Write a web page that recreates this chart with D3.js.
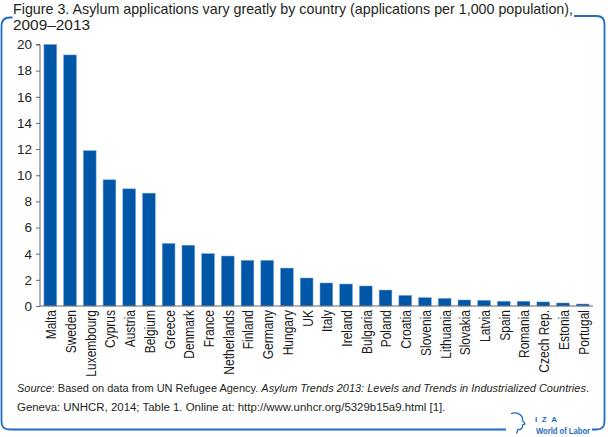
<!DOCTYPE html>
<html>
<head>
<meta charset="utf-8">
<script src="https://cdn.jsdelivr.net/npm/d3@7"></script>
<style>
  html, body { margin: 0; padding: 0; background: #fff; }
  svg { display: block; }
  text { font-family: "Liberation Sans", Arial, sans-serif; }
</style>
</head>
<body>
<svg id="chart" width="608" height="437"></svg>
<script>
const countries = ["Malta","Sweden","Luxembourg","Cyprus","Austria","Belgium","Greece","Denmark","France","Netherlands","Finland","Germany","Hungary","UK","Italy","Ireland","Bulgaria","Poland","Croatia","Slovenia","Lithuania","Slovakia","Latvia","Spain","Romania","Czech Rep.","Estonia","Portugal"];
const values = [20.0,19.2,11.88,9.65,8.96,8.63,4.78,4.65,4.0,3.82,3.49,3.49,2.9,2.14,1.76,1.68,1.53,1.22,0.81,0.64,0.58,0.46,0.43,0.36,0.36,0.31,0.23,0.15];
const yTicks = [0,2,4,6,8,10,12,14,16,18,20];
const titleLines = ["Figure 3. Asylum applications vary greatly by country (applications per 1,000 population),", "2009\u20132013"];
const sourceLine1 = [["Source", true], [": Based on data from UN Refugee Agency. ", false], ["Asylum Trends 2013: Levels and Trends in Industrialized Countries", true], [".", false]];
const sourceLine2 = "Geneva: UNHCR, 2014; Table 1. Online at: http://www.unhcr.org/5329b15a9.html [1].";

const svg = d3.select("#chart");
const blue = "#0057a8";
const frameBlue = "#1f6cc0";
const textCol = "#231f20";

const x = d3.scaleBand().domain(countries).range([40, 593]).paddingInner(0.355).paddingOuter(0.2);
const y = d3.scaleLinear().domain([0, 20]).range([306, 44.5]);

function fitWidth(sel, base, target) {
  sel.style("font-size", base + "px");
  const w = sel.node().getComputedTextLength();
  sel.style("font-size", (base * target / w) + "px");
}

// frame
const frame = svg.append("g").attr("fill", "none").attr("stroke", frameBlue).attr("stroke-width", 1.8);
frame.append("path").attr("d", "M12.5,17.5 L10,17.5 Q1.5,17.5 1.5,26 L1.5,421.5 Q1.5,429.5 9.5,429.5 L506,429.5");
frame.append("path").attr("d", "M592,429.5 L596.5,429.5 Q604.5,429.5 604.5,421.5 L604.5,24 Q604.5,16 596.5,16 L574,16");
frame.append("path").attr("stroke-width", 1.3)
  .attr("d", "M511,413.5 C517,411.5 523,415 522.5,420 L525,424 L522.5,425 C523,428 521,430 518,429.5 L516.5,433.5");

// title
const title = svg.append("g").attr("fill", textCol);
title.append("text").attr("x", 13).attr("y", 14).style("font-size", "14.5px")
  .attr("textLength", 560).attr("lengthAdjust", "spacingAndGlyphs").text(titleLines[0]);
title.append("text").attr("x", 13).attr("y", 29.5).style("font-size", "14px")
  .attr("textLength", 77).attr("lengthAdjust", "spacingAndGlyphs").text(titleLines[1]);

// bars
svg.append("g").selectAll("rect").data(countries).join("rect")
  .attr("x", d => x(d))
  .attr("width", x.bandwidth())
  .attr("y", (d, i) => y(values[i]))
  .attr("height", (d, i) => y(0) - y(values[i]))
  .attr("fill", blue)
  .attr("stroke", "#6f9fd6").attr("stroke-width", 0.5);

// y axis
const yAxis = svg.append("g").attr("transform", "translate(40,0)")
  .call(d3.axisLeft(y).tickValues(yTicks).tickSize(4).tickPadding(4).tickFormat(d3.format("d")));
yAxis.select(".domain").attr("stroke", "#666").attr("d", "M-4,44.5H0V306");
yAxis.selectAll(".tick line").attr("stroke", "#666");
yAxis.selectAll(".tick text")
  .attr("x", -8)
  .attr("fill", textCol).style("font-size", "13.5px");

// x axis
const xAxis = svg.append("g").attr("transform", "translate(0,306)")
  .call(d3.axisBottom(x).tickSize(0).tickPadding(0));
xAxis.select(".domain").attr("stroke", "#666").attr("d", "M40,0H593");
xAxis.selectAll(".tick text")
  .attr("transform", "translate(0.5,4) rotate(-90) scale(0.8,1)")
  .attr("text-anchor", "end")
  .attr("x", 0).attr("y", 0).attr("dy", "0.36em")
  .attr("fill", "#1a1a1a").style("font-size", "15px");

// source
const src = svg.append("g").attr("fill", textCol);
const s1 = src.append("text").attr("x", 17).attr("y", 392);
s1.selectAll("tspan").data(sourceLine1).join("tspan")
  .attr("font-style", d => d[1] ? "italic" : null)
  .text(d => d[0]);
fitWidth(s1, 13, 573);
const s2 = src.append("text").attr("x", 17).attr("y", 410.5).text(sourceLine2);
fitWidth(s2, 13, 429);

// IZA logo text
const logo = svg.append("g").attr("fill", frameBlue).style("font-weight", "bold");
logo.append("text").attr("x", 535).attr("y", 422).style("font-size", "8px").attr("textLength", 22).attr("lengthAdjust", "spacing").text("IZA");
logo.append("text").attr("x", 536).attr("y", 434).style("font-size", "8.5px").attr("textLength", 54).attr("lengthAdjust", "spacingAndGlyphs").text("World of Labor");
</script>
</body>
</html>
